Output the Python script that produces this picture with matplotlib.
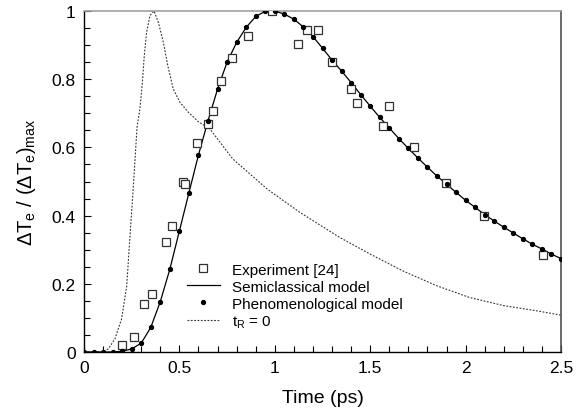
import matplotlib
matplotlib.use("Agg")
import matplotlib.pyplot as plt
from matplotlib.ticker import MultipleLocator

plt.rcParams['font.family'] = ['Liberation Sans', 'DejaVu Sans']
plt.rcParams['mathtext.fontset'] = 'custom'
plt.rcParams['mathtext.rm'] = 'Liberation Sans'
plt.rcParams['mathtext.it'] = 'Liberation Sans:italic'

# Experiment [24]
exp_t = [0.199, 0.262, 0.316, 0.356, 0.428, 0.461, 0.52, 0.528, 0.59, 0.648, 0.674,
         0.718, 0.776, 0.858, 0.987, 1.123, 1.167, 1.228, 1.298, 1.40, 1.429, 1.569,
         1.597, 1.731, 1.899, 2.096, 2.407]
exp_y = [0.020, 0.045, 0.141, 0.169, 0.322, 0.370, 0.499, 0.493, 0.613, 0.668, 0.708,
         0.796, 0.861, 0.928, 1.000, 0.903, 0.943, 0.944, 0.851, 0.772, 0.731, 0.662,
         0.722, 0.602, 0.495, 0.400, 0.285]

# Semiclassical / phenomenological model
model_t = [round(0.05 * i, 2) for i in range(51)]
model_y = [0.0, 0.0, 0.0, 0.0, 0.002, 0.009, 0.026, 0.072, 0.148, 0.243, 0.355,
           0.467, 0.578, 0.678, 0.771, 0.850, 0.908, 0.952, 0.984, 0.999, 1.0,
           0.991, 0.976, 0.953, 0.925, 0.891, 0.856, 0.824, 0.790, 0.755, 0.721,
           0.688, 0.657, 0.626, 0.597, 0.569, 0.542, 0.516, 0.492, 0.468, 0.445,
           0.424, 0.403, 0.384, 0.366, 0.349, 0.332, 0.316, 0.302, 0.287, 0.274]

# t_R = 0
tr0_t = [0.0, 0.05, 0.10, 0.127, 0.162, 0.197, 0.224, 0.241, 0.259, 0.278, 0.293,
         0.306, 0.316, 0.328, 0.346, 0.367, 0.39, 0.416, 0.439, 0.468, 0.503, 0.547,
         0.60, 0.66, 0.78, 0.96, 1.13, 1.34, 1.50, 1.67, 1.85, 2.02, 2.20, 2.37, 2.50]
tr0_y = [0.0, 0.0, 0.001, 0.009, 0.038, 0.097, 0.194, 0.34, 0.488, 0.66, 0.713,
         0.791, 0.869, 0.937, 0.987, 1.0, 0.966, 0.908, 0.84, 0.771, 0.732, 0.703,
         0.675, 0.654, 0.566, 0.478, 0.41, 0.336, 0.287, 0.238, 0.194, 0.16, 0.136,
         0.121, 0.108]

fig = plt.figure(figsize=(5.81, 4.14), dpi=100)
ax = fig.add_axes([84/581, 61/414, 477/581, 341/414])

ax.plot(exp_t, exp_y, linestyle='none', marker='s', markersize=5.5,
        markerfacecolor='white', markeredgecolor='#333333', markeredgewidth=0.9,
        label='Experiment [24]', zorder=4)
ax.plot(model_t, model_y, color='black', linewidth=0.9, label='Semiclassical model', zorder=3)
ax.plot(model_t, model_y, linestyle='none', marker='o', markersize=2.8,
        color='black', label='Phenomenological model', zorder=5)
ax.plot(tr0_t, tr0_y, color='#333333', linewidth=0.8, linestyle=(0, (1.6, 1.4)),
        label='t$_\\mathrm{R}$ = 0', zorder=2)

ax.set_xlim(0, 2.5)
ax.set_ylim(0, 1)
ax.xaxis.set_major_locator(MultipleLocator(0.5))
ax.xaxis.set_minor_locator(MultipleLocator(0.1))
ax.yaxis.set_major_locator(MultipleLocator(0.2))
ax.yaxis.set_minor_locator(MultipleLocator(0.05))
ax.set_xticks([0, 0.5, 1, 1.5, 2, 2.5])
ax.set_xticklabels(['0', '0.5', '1', '1.5', '2', '2.5'])
ax.set_yticks([0, 0.2, 0.4, 0.6, 0.8, 1])
ax.set_yticklabels(['0', '0.2', '0.4', '0.6', '0.8', '1'])
ax.tick_params(which='both', direction='in', top=False, right=False, labelsize=12.5)
ax.tick_params(which='major', length=5, width=0.8, pad=6)
ax.tick_params(which='minor', length=4, width=0.8)

for s in ['left', 'bottom']:
    ax.spines[s].set_color('black')
    ax.spines[s].set_linewidth(1.0)
ax.spines['top'].set_color('#a0a0a0')
ax.spines['top'].set_linewidth(1.2)
ax.spines['right'].set_color('#505050')
ax.spines['right'].set_linewidth(1.2)

ax.set_xlabel('Time (ps)', fontsize=14, labelpad=10)
ax.set_ylabel(r'$\Delta\mathrm{T}_\mathrm{e}\ /\ (\Delta\mathrm{T}_\mathrm{e})_\mathrm{max}$',
              fontsize=14.5, labelpad=10)

leg = ax.legend(loc='upper left', bbox_to_anchor=(0.215, 0.262), frameon=False,
                fontsize=11, handlelength=2.2, handletextpad=0.8, labelspacing=0.2,
                borderpad=0, borderaxespad=0)

fig.savefig('out.png', dpi=100)
